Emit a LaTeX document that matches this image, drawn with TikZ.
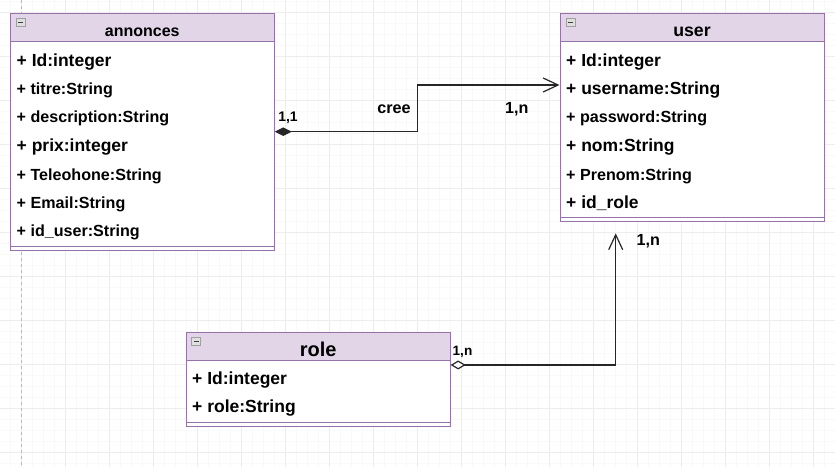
\documentclass[tikz,border=0pt]{standalone}
\usepackage{fontspec}
\setmainfont{Liberation Sans}
\usetikzlibrary{arrows.meta}
\definecolor{umlline}{HTML}{9673A6}
\definecolor{umlhead}{HTML}{E1D5E7}

\begin{document}
\begin{tikzpicture}[x=1pt,y=-1pt,
		classbox/.style={draw=umlline,line width=1pt,fill=white,minimum width=264pt,inner sep=0pt},
		classhead/.style={draw=umlline,line width=1pt,fill=umlhead,minimum width=264pt,minimum height=28.4pt,inner sep=0pt,anchor=north west},
		headtext/.style={anchor=base,inner sep=0pt,font=\bfseries\fontsize{#1}{#1}\selectfont},
		attr/.style={anchor=base west,inner sep=0pt,font=\bfseries\fontsize{16.1}{18}\selectfont},
		attrbig/.style={attr,font=\bfseries\fontsize{17.5}{20}\selectfont},
		card/.style={anchor=base,inner sep=0pt,font=\bfseries\fontsize{#1}{#1}\selectfont},
		minorgrid/.style={draw=gray!5,line width=0.6pt},
		majorgrid/.style={draw=gray!14,line width=0.8pt},
		icon/.style={draw=gray!75,fill=gray!25,line width=0.8pt},
		link/.style={draw=black!85,line width=1.2pt},
		compo/.style={link,{Diamond[length=17pt,width=8.5pt]}-{Straight Barb[length=15pt,width=14pt]}},
		aggr/.style={link,{Diamond[open,fill=white,length=15pt,width=9pt]}-{Straight Barb[length=15pt,width=14pt]}}]
			\useasboundingbox (0,0) rectangle (835,467);
			\fill[white] (0,0) rectangle (835,467);
			\foreach \i in {0,...,75} \draw[minorgrid] (10.3+11*\i,0) -- (10.3+11*\i,467);
			\foreach \i in {0,...,42} \draw[minorgrid] (0,1+11*\i) -- (835,1+11*\i);
			\foreach \i in {0,...,18} \draw[majorgrid] (21.3+44*\i,0) -- (21.3+44*\i,467);
			\foreach \i in {0,...,10} \draw[majorgrid] (0,12+44*\i) -- (835,12+44*\i);
			\draw[gray!55,line width=0.8pt,dashed] (21.3,0) -- (21.3,467);

			\node[classbox,minimum height=236.7pt] (annonces) at (142.3,131.65) {};
			\node[classhead] (annoncesh) at (annonces.north west) {};
			\draw[umlline,line width=1pt] ([yshift=4.5pt]annonces.south west) -- ([yshift=4.5pt]annonces.south east);
			\draw[icon] (16,18.3) rectangle (25,26.7);
			\draw[black!75,line width=1pt] (18,22.5) -- (23,22.5);
			\node[headtext=16] (annoncest) at (142.3,36.7) {annonces};
			\node[attrbig] (an1) at (16.5,66) {+ Id:integer};
			\node[attr] (an2) at (16.5,94.3) {+ titre:String};
			\node[attr] (an3) at (16.5,122.7) {+ description:String};
			\node[attrbig] (an4) at (16.5,151) {+ prix:integer};
			\node[attr] (an5) at (16.5,180) {+ Teleohone:String};
			\node[attr] (an6) at (16.5,208.3) {+ Email:String};
			\node[attr] (an7) at (16.5,236.7) {+ id\_user:String};

			\node[classbox,minimum height=208.4pt] (user) at (692,117.5) {};
			\node[classhead] (userh) at (user.north west) {};
			\draw[umlline,line width=1pt] ([yshift=4.5pt]user.south west) -- ([yshift=4.5pt]user.south east);
			\draw[icon] (566,18.3) rectangle (575,26.7);
			\draw[black!75,line width=1pt] (568,22.5) -- (573,22.5);
			\node[headtext=17.7] (usert) at (692,36.7) {user};
			\node[attrbig] (us1) at (566,66) {+ Id:integer};
			\node[attrbig] (us2) at (566,94.3) {+ username:String};
			\node[attr] (us3) at (566,122.7) {+ password:String};
			\node[attrbig] (us4) at (566,151) {+ nom:String};
			\node[attr] (us5) at (566,180) {+ Prenom:String};
			\node[attrbig] (us6) at (566,208.3) {+ id\_role};

			\node[classbox,minimum height=93.7pt] (role) at (318.15,379.15) {};
			\node[classhead] (roleh) at (role.north west) {};
			\draw[umlline,line width=1pt] ([yshift=4.5pt]role.south west) -- ([yshift=4.5pt]role.south east);
			\draw[icon] (191.7,337.3) rectangle (200.7,345.7);
			\draw[black!75,line width=1pt] (193.7,341.5) -- (198.7,341.5);
			\node[headtext=20] (rolet) at (318.15,356) {role};
			\node[attrbig] (ro1) at (192,384.3) {+ Id:integer};
			\node[attrbig] (ro2) at (192,412.7) {+ role:String};

			\draw[compo] (annonces.east) -- ++(142.4,0) |- ([yshift=32.5pt]user.west);
			\node[card=13.9] (c11) at (288,121.7) {1,1};
			\node[card=16.2] (cree) at (394,113.3) {cree};
			\node[card=16.1] (c1n) at (516.7,113.3) {1,n};

			\coordinate (userin) at (615.7,233.3);
			\draw[aggr] ([yshift=14.2pt]role.east) -| (userin);
			\node[card=16.1] (u1n) at (648.3,245) {1,n};
			\node[card=13.6] (r1n) at (462.5,355.7) {1,n};
		\end{tikzpicture}
\end{document}
